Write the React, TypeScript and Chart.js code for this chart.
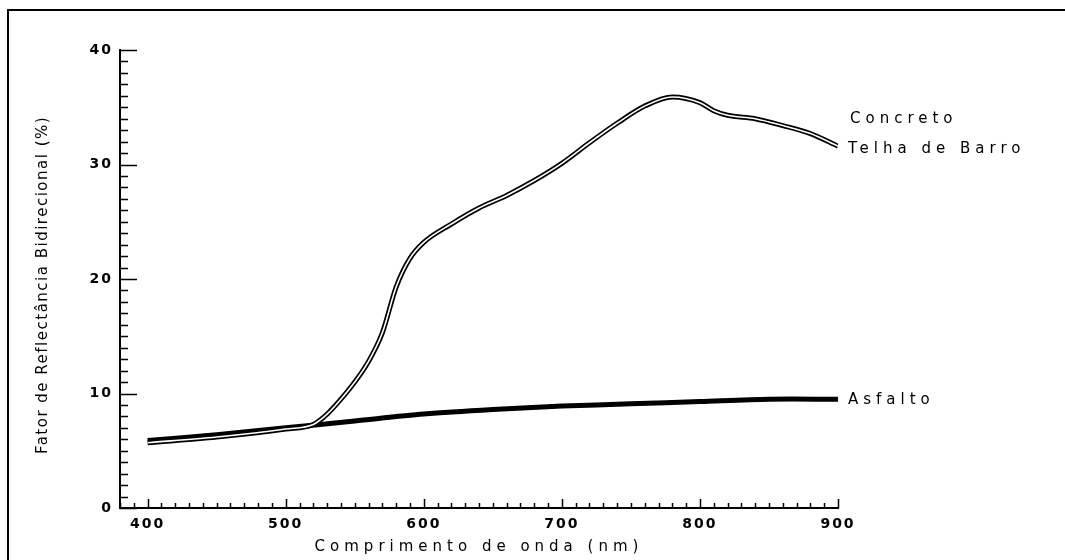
import React, { useEffect, useRef } from "react";
import { Chart, registerables } from "chart.js";

Chart.register(...registerables);

// ---- data ----
const wavelengths = [400, 450, 500, 520, 530, 540, 550, 560, 570, 580, 590, 600, 620, 640, 660, 680, 700, 720, 740, 760, 780, 800, 810, 820, 840, 860, 880, 900];
const concreto = [5.7, 6.2, 6.9, 7.3, 8.2, 9.5, 11.0, 12.8, 15.3, 19.3, 21.8, 23.2, 24.8, 26.2, 27.3, 28.6, 30.1, 31.9, 33.6, 35.1, 35.9, 35.4, 34.7, 34.3, 34.0, 33.4, 32.7, 31.6];
const telhaDeBarro = [5.7, 6.2, 6.9, 7.3, 8.2, 9.5, 11.0, 12.8, 15.3, 19.3, 21.8, 23.2, 24.8, 26.2, 27.3, 28.6, 30.1, 31.9, 33.6, 35.1, 35.9, 35.4, 34.7, 34.3, 34.0, 33.4, 32.7, 31.6];
const asfaltoWavelengths = [400, 450, 500, 550, 600, 650, 700, 750, 800, 850, 900];
const asfalto = [5.9, 6.4, 7.0, 7.6, 8.2, 8.6, 8.9, 9.1, 9.3, 9.5, 9.5];

const xTickValues = [400, 500, 600, 700, 800, 900];
const yTickValues = [0, 10, 20, 30, 40];
const xMin = 380;
const xMax = 900;
const yMin = 0;
const yMax = 40;
const xMinorStep = 10;
const yMinorStep = 1;

const seriesNames = ["Concreto", "Telha de Barro", "Asfalto"];
const xTitle = "Comprimento de onda (nm)";
const yTitle = "Fator de Reflectância Bidirecional (%)";

const FONT = "'DejaVu Sans', Verdana, sans-serif";

const toPoints = (xs: number[], ys: number[]) => xs.map((x, i) => ({ x, y: ys[i] }));

const framePlugin = {
  id: "frame",
  beforeDraw(chart: any) {
    const ctx = chart.ctx;
    ctx.save();
    ctx.fillStyle = "#fff";
    ctx.fillRect(0, 0, chart.width, chart.height);
    ctx.strokeStyle = "#000";
    ctx.lineWidth = 2;
    ctx.beginPath();
    ctx.moveTo(8, chart.height);
    ctx.lineTo(8, 10);
    ctx.lineTo(chart.width, 10);
    ctx.stroke();
    ctx.restore();
    (ctx as any).letterSpacing = "2px";
  },
};

const ticksPlugin = {
  id: "minorTicks",
  beforeDatasetsDraw(chart: any) {
    const { ctx, chartArea } = chart;
    const x = chart.scales.x;
    const y = chart.scales.y;
    ctx.save();
    ctx.strokeStyle = "#000";
    ctx.lineWidth = 1.5;
    ctx.beginPath();
    for (let v = xMin; v <= xMax; v += xMinorStep) {
      const px = Math.round(x.getPixelForValue(v)) + 0.5;
      const len = v % 100 === 0 ? 9 : 5;
      ctx.moveTo(px, chartArea.bottom);
      ctx.lineTo(px, chartArea.bottom - len);
    }
    for (let v = yMin; v <= yMax; v += yMinorStep) {
      const py = Math.round(y.getPixelForValue(v)) + 0.5;
      const len = v % 10 === 0 ? 17 : 8;
      ctx.moveTo(chartArea.left, py);
      ctx.lineTo(chartArea.left + len, py);
    }
    ctx.stroke();
    ctx.restore();
  },
};

const labelsPlugin = {
  id: "seriesLabels",
  afterDraw(chart: any) {
    const { ctx, chartArea } = chart;
    const x = chart.scales.x;
    const y = chart.scales.y;
    ctx.save();
    ctx.fillStyle = "#000";
    ctx.textBaseline = "middle";
    ctx.font = `15px ${FONT}`;
    (ctx as any).letterSpacing = "5px";
    const endX = x.getPixelForValue(xMax) + 10;
    ctx.textAlign = "left";
    ctx.fillText(seriesNames[0], endX + 2, y.getPixelForValue(concreto[concreto.length - 1]) - 27);
    ctx.fillText(seriesNames[1], endX, y.getPixelForValue(telhaDeBarro[telhaDeBarro.length - 1]) + 3);
    ctx.fillText(seriesNames[2], endX, y.getPixelForValue(asfalto[asfalto.length - 1]) + 1);

    // x axis title
    ctx.textAlign = "center";
    ctx.fillText(xTitle, (chartArea.left + chartArea.right) / 2, 547);

    // y axis title
    (ctx as any).letterSpacing = "1.5px";
    ctx.font = `15px ${FONT}`;
    ctx.translate(43, (chartArea.top + chartArea.bottom) / 2 + 6);
    ctx.rotate(-Math.PI / 2);
    ctx.fillText(yTitle, 0, 0);
    ctx.restore();
  },
};

export default function App() {
  const canvasRef = useRef<HTMLCanvasElement | null>(null);

  useEffect(() => {
    const canvas = canvasRef.current;
    if (!canvas) return;
    const chart = new Chart(canvas, {
      type: "line",
      data: {
        datasets: [
          {
            label: seriesNames[2],
            data: toPoints(asfaltoWavelengths, asfalto),
            borderColor: "#000",
            borderWidth: 5,
            pointRadius: 0,
            tension: 0.3,
            fill: false,
            order: 3,
          },
          {
            label: seriesNames[0],
            data: toPoints(wavelengths, concreto),
            borderColor: "#000",
            borderWidth: 5,
            pointRadius: 0,
            cubicInterpolationMode: "monotone",
            fill: false,
            order: 2,
          },
          {
            label: seriesNames[1],
            data: toPoints(wavelengths, telhaDeBarro),
            borderColor: "#fff",
            borderWidth: 1.6,
            pointRadius: 0,
            cubicInterpolationMode: "monotone",
            fill: false,
            order: 1,
          },
        ],
      },
      options: {
        animation: false,
        responsive: false,
        maintainAspectRatio: false,
        layout: { padding: { left: 0, top: 50, right: 227, bottom: 0 } },
        plugins: {
          legend: { display: false },
          tooltip: { enabled: false },
        },
        scales: {
          x: {
            type: "linear",
            min: xMin,
            max: xMax,
            afterBuildTicks: (scale: any) => {
              scale.ticks = xTickValues.map((v) => ({ value: v }));
            },
            afterFit: (scale: any) => {
              scale.height = 52;
            },
            grid: { display: false, drawTicks: false },
            border: { display: true, color: "#000", width: 2 },
            ticks: {
              color: "#000",
              padding: 8,
              maxRotation: 0,
              autoSkip: false,
              font: { family: FONT, size: 14, weight: "bold" },
            },
            title: { display: false },
          },
          y: {
            type: "linear",
            min: yMin,
            max: yMax,
            afterBuildTicks: (scale: any) => {
              scale.ticks = yTickValues.map((v) => ({ value: v }));
            },
            afterFit: (scale: any) => {
              scale.width = 120;
            },
            grid: { display: false, drawTicks: false },
            border: { display: true, color: "#000", width: 2 },
            ticks: {
              color: "#000",
              padding: 7,
              font: { family: FONT, size: 14, weight: "bold" },
            },
            title: { display: false },
          },
        },
      },
      plugins: [framePlugin, ticksPlugin, labelsPlugin],
    });
    return () => chart.destroy();
  }, []);

  return (
    <div style={{ position: "fixed", left: 0, top: 0, width: 1065, height: 560, background: "#fff" }}>
      <canvas ref={canvasRef} width={1065} height={560} style={{ display: "block" }} />
    </div>
  );
}
